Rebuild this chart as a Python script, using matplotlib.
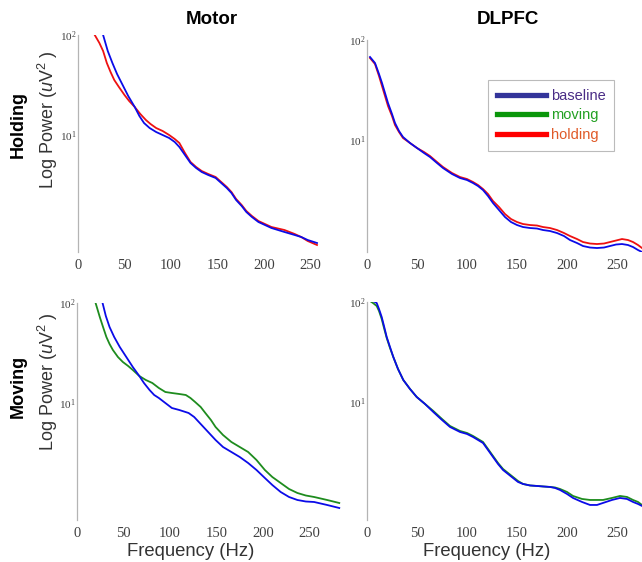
import matplotlib
matplotlib.use('Agg')
import matplotlib.pyplot as plt
from matplotlib.lines import Line2D
from matplotlib.ticker import NullLocator, FixedLocator

plt.rcParams['font.family'] = ['Liberation Sans', 'DejaVu Sans']
plt.rcParams['mathtext.fontset'] = 'custom'
plt.rcParams['mathtext.it'] = 'Liberation Sans:italic'
plt.rcParams['mathtext.rm'] = 'Liberation Sans'

# ---------------- data (log10 power) ----------------
# Motor, holding row
motor_hold_base_f = [27, 32, 37, 42, 48, 54, 61, 66, 71, 77, 84, 91, 98, 104, 109, 115, 121, 127, 133, 140, 148, 154, 160, 165, 170, 176, 181, 187, 194, 201, 208, 215, 222, 233, 240, 247, 257]
motor_hold_base_lp = [2.0, 1.84, 1.72, 1.61, 1.50, 1.39, 1.28, 1.19, 1.12, 1.07, 1.03, 1.00, 0.97, 0.93, 0.88, 0.80, 0.72, 0.67, 0.63, 0.60, 0.57, 0.52, 0.47, 0.42, 0.35, 0.29, 0.23, 0.18, 0.13, 0.10, 0.07, 0.05, 0.03, 0.0, -0.02, -0.05, -0.08]
motor_hold_cond_f = [18, 23, 27, 31, 35, 39, 44, 50, 55, 61, 67, 73, 78, 84, 91, 98, 104, 109, 115, 121, 127, 133, 140, 148, 154, 160, 165, 170, 176, 181, 187, 194, 201, 208, 215, 222, 233, 240, 247, 257]
motor_hold_cond_lp = [2.0, 1.92, 1.84, 1.72, 1.63, 1.55, 1.48, 1.40, 1.34, 1.28, 1.21, 1.15, 1.11, 1.07, 1.04, 1.0, 0.96, 0.92, 0.82, 0.73, 0.68, 0.64, 0.61, 0.58, 0.53, 0.48, 0.43, 0.36, 0.30, 0.24, 0.19, 0.14, 0.11, 0.08, 0.065, 0.05, 0.01, -0.02, -0.06, -0.10]

# DLPFC, holding row
dlpfc_hold_base_f = [3, 8, 12, 15, 18, 21, 25, 28, 32, 36, 43, 50, 57, 63, 70, 76, 85, 93, 100, 106, 111, 116, 121, 126, 132, 138, 144, 150, 156, 163, 170, 176, 183, 190, 197, 203, 210, 216, 223, 230, 237, 243, 249, 255, 261, 266, 271, 275]
dlpfc_hold_base_lp = [1.83, 1.77, 1.66, 1.57, 1.47, 1.37, 1.26, 1.17, 1.09, 1.03, 0.97, 0.92, 0.87, 0.83, 0.77, 0.72, 0.66, 0.62, 0.60, 0.57, 0.54, 0.50, 0.44, 0.37, 0.30, 0.23, 0.18, 0.15, 0.13, 0.12, 0.115, 0.10, 0.09, 0.07, 0.04, 0.0, -0.03, -0.06, -0.075, -0.08, -0.075, -0.06, -0.045, -0.04, -0.05, -0.07, -0.10, -0.12]
dlpfc_hold_cond_f = [3, 8, 12, 15, 18, 21, 25, 28, 32, 36, 43, 50, 57, 63, 70, 76, 85, 93, 100, 106, 111, 116, 121, 126, 132, 138, 144, 150, 156, 163, 170, 176, 183, 190, 197, 203, 210, 216, 223, 230, 237, 243, 249, 255, 261, 266, 271, 275]
dlpfc_hold_cond_lp = [1.82, 1.76, 1.64, 1.54, 1.44, 1.34, 1.24, 1.15, 1.08, 1.02, 0.97, 0.92, 0.88, 0.84, 0.78, 0.73, 0.67, 0.63, 0.61, 0.58, 0.55, 0.51, 0.46, 0.39, 0.33, 0.26, 0.21, 0.18, 0.16, 0.15, 0.145, 0.13, 0.12, 0.10, 0.07, 0.04, 0.01, -0.02, -0.035, -0.04, -0.035, -0.02, -0.005, 0.01, 0.0, -0.02, -0.05, -0.08]

# Motor, moving row
motor_move_base_f = [27.5, 31, 35, 40, 46, 53, 60, 67, 72, 78, 83, 88, 95, 102, 110, 120, 126, 131, 140, 149, 157, 166, 175, 184, 193, 202, 210, 219, 228, 237, 246, 255, 262, 269, 282]
motor_move_base_lp = [2.0, 1.87, 1.76, 1.66, 1.56, 1.46, 1.36, 1.27, 1.20, 1.13, 1.08, 1.05, 1.00, 0.95, 0.93, 0.90, 0.86, 0.81, 0.72, 0.63, 0.56, 0.51, 0.46, 0.40, 0.33, 0.25, 0.18, 0.11, 0.06, 0.03, 0.015, 0.01, -0.005, -0.02, -0.05]
motor_move_cond_f = [20, 24.5, 28, 31.6, 35, 38.6, 44, 49.3, 55, 60, 67, 74, 81, 88, 95, 102, 110, 117, 122, 127, 133, 138, 144, 149, 157, 166, 175, 184, 193, 202, 210, 219, 228, 237, 246, 255, 262, 269, 282]
motor_move_cond_lp = [2.0, 1.86, 1.76, 1.66, 1.59, 1.53, 1.46, 1.41, 1.37, 1.33, 1.27, 1.23, 1.20, 1.15, 1.11, 1.10, 1.09, 1.08, 1.05, 1.01, 0.96, 0.90, 0.83, 0.76, 0.68, 0.61, 0.56, 0.51, 0.43, 0.33, 0.26, 0.20, 0.14, 0.10, 0.075, 0.06, 0.045, 0.03, 0.0]

# DLPFC, moving row
dlpfc_move_base_f = [3, 6, 9.7, 12, 14.7, 17, 19.7, 23, 26.3, 31, 36.3, 43, 49.7, 58, 66.3, 75, 83, 93, 100, 106, 111, 116, 121, 126, 131, 136, 141, 146, 151, 156, 163, 170, 176, 183, 188, 193, 200, 206, 215, 223, 230, 236, 245, 253, 260, 266, 271, 275]
dlpfc_move_base_lp = [2.02, 2.01, 1.99, 1.93, 1.85, 1.76, 1.65, 1.55, 1.45, 1.33, 1.22, 1.13, 1.05, 0.98, 0.90, 0.82, 0.75, 0.70, 0.68, 0.65, 0.62, 0.59, 0.52, 0.45, 0.38, 0.32, 0.28, 0.24, 0.20, 0.18, 0.165, 0.16, 0.155, 0.15, 0.14, 0.12, 0.08, 0.04, 0.0, -0.03, -0.03, -0.01, 0.02, 0.04, 0.03, 0.0, -0.02, -0.04]
dlpfc_move_cond_f = [3, 6, 9.7, 12, 14.7, 17, 19.7, 23, 26.3, 31, 36.3, 43, 49.7, 58, 66.3, 75, 83, 93, 100, 106, 111, 116, 121, 126, 131, 136, 141, 146, 151, 156, 163, 170, 176, 183, 188, 193, 200, 206, 215, 223, 230, 236, 245, 253, 260, 266, 271, 275]
dlpfc_move_cond_lp = [2.01, 1.99, 1.96, 1.91, 1.83, 1.74, 1.64, 1.54, 1.45, 1.33, 1.22, 1.13, 1.05, 0.98, 0.91, 0.83, 0.76, 0.71, 0.69, 0.66, 0.63, 0.60, 0.53, 0.46, 0.39, 0.33, 0.29, 0.25, 0.21, 0.18, 0.165, 0.16, 0.155, 0.15, 0.145, 0.13, 0.10, 0.06, 0.03, 0.02, 0.02, 0.02, 0.04, 0.06, 0.05, 0.02, 0.0, -0.03]

col_titles = ['Motor', 'DLPFC']
row_titles = ['Holding', 'Moving']
legend_labels = ['baseline', 'moving', 'holding']
x_ticks = [0, 50, 100, 150, 200, 250]
y_ticks = [10, 100]

# ---------------- styling ----------------
W, H = 642, 562
fig = plt.figure(figsize=(W / 100, H / 100), dpi=100)

C_BASE = '#0b0be8'
C_HOLD = '#ee1111'
C_MOVE = '#1e8c1e'
GRAY_TXT = '#333333'

def add_ax(left, top, width, bottom):
    return fig.add_axes([left / W, 1 - bottom / H, width / W, (bottom - top) / H])

def lin(v):
    return [10 ** x for x in v]

panels = [
    (78, 35, 279, 252, 0.676, motor_hold_base_f, motor_hold_base_lp, motor_hold_cond_f, motor_hold_cond_lp, C_HOLD),
    (367, 40, 300, 252, 0.759, dlpfc_hold_base_f, dlpfc_hold_base_lp, dlpfc_hold_cond_f, dlpfc_hold_cond_lp, C_HOLD),
    (77, 303, 279, 520, 0.676, motor_move_base_f, motor_move_base_lp, motor_move_cond_f, motor_move_cond_lp, C_MOVE),
    (367, 302, 300, 520, 0.66, dlpfc_move_base_f, dlpfc_move_base_lp, dlpfc_move_cond_f, dlpfc_move_cond_lp, C_MOVE),
]

axes = []
for (l, t, w, b, ylo, bf, blp, cf, clp, cc) in panels:
    ax = add_ax(l, t, w, b)
    ax.plot(cf, lin(clp), color=cc, lw=1.3, solid_joinstyle='round')
    ax.plot(bf, lin(blp), color=C_BASE, lw=1.3, solid_joinstyle='round')
    ax.set_yscale('log')
    ax.set_xlim(0, 300)
    ax.set_ylim(ylo, 100)
    ax.xaxis.set_major_locator(FixedLocator(x_ticks))
    ax.yaxis.set_major_locator(FixedLocator(y_ticks))
    ax.yaxis.set_minor_locator(NullLocator())
    ax.xaxis.set_minor_locator(NullLocator())
    for s in ['top', 'right', 'bottom']:
        ax.spines[s].set_visible(False)
    ax.spines['left'].set_color('#b4b4b4')
    ax.spines['left'].set_linewidth(0.9)
    ax.tick_params(axis='x', length=0, pad=5, labelsize=10.5, labelcolor='#404040',
                   labelfontfamily='Liberation Serif')
    ax.tick_params(axis='y', length=0, pad=1, labelsize=8, labelcolor='#404040',
                   labelfontfamily='Liberation Serif')
    ax.patch.set_alpha(0)
    axes.append(ax)

ylabel = r'Log Power ($\mathit{u}\mathdefault{V^{2}}$ )'
for ax, (l, t, w, b), ycen in [(axes[0], (78, 35, 279, 252), 120), (axes[2], (77, 303, 279, 520), 382)]:
    ax.set_ylabel(ylabel, fontsize=13, color=GRAY_TXT, va='center')
    ax.yaxis.set_label_coords((48 - l) / w, (b - ycen) / (b - t))

for ax, (l, t, w, b), xcen in [(axes[2], (77, 303, 279, 520), 191), (axes[3], (367, 302, 300, 520), 487)]:
    ax.set_xlabel('Frequency (Hz)', fontsize=13.3, color=GRAY_TXT, va='center')
    ax.xaxis.set_label_coords((xcen - l) / w, -(551 - b) / (b - t))

for txt, xc in zip(col_titles, [212, 508]):
    fig.text(xc / W, 1 - 19 / H, txt, fontsize=13.5, fontweight='bold', ha='center', va='center')
for txt, yc in zip(row_titles, [125, 386]):
    fig.text(18 / W, 1 - yc / H, txt, fontsize=13, fontweight='bold', rotation=90, ha='center', va='center')

handles = [Line2D([], [], color='#33349a', lw=3.8),
           Line2D([], [], color='#0a960a', lw=3.8),
           Line2D([], [], color='#ff0000', lw=3.8)]
leg = fig.legend(handles, legend_labels, loc='upper left', bbox_to_anchor=(488 / W, 1 - 80 / H),
                 frameon=True, fancybox=False, edgecolor='#aaaaaa', fontsize=10.5,
                 handlelength=3.4, handletextpad=0.3, labelspacing=0.38, borderpad=0.6,
                 borderaxespad=0)
leg.get_frame().set_linewidth(0.8)
for t, c in zip(leg.get_texts(), ['#4a2d86', '#22a022', '#e05a28']):
    t.set_color(c)

fig.savefig('out.png', dpi=100)
